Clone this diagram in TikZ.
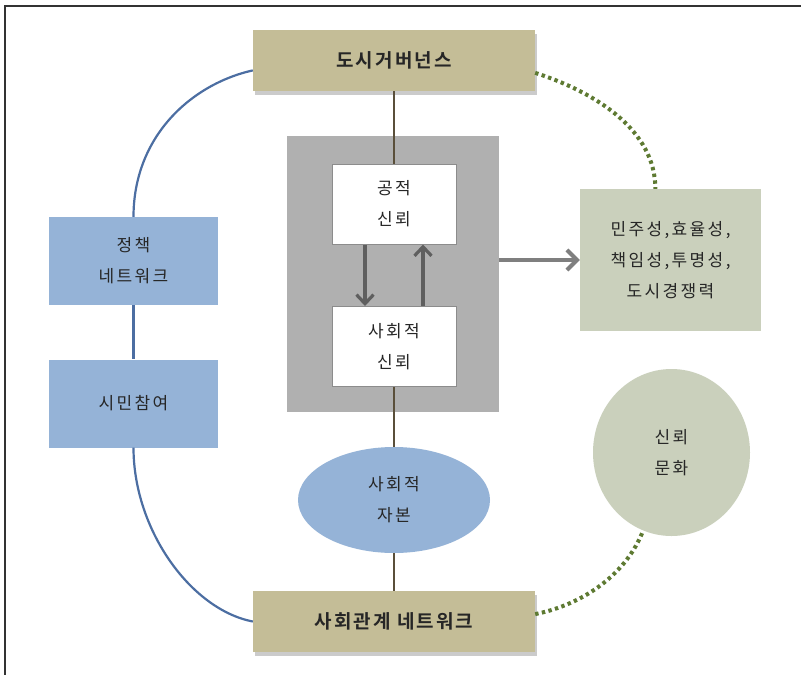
\documentclass[tikz,border=0pt]{standalone}
\usepackage{fontspec}
\setmainfont{Noto Sans CJK KR}
\newfontfamily\krreg[LetterSpace=14]{Noto Sans CJK KR}
\newfontfamily\krbold[LetterSpace=11]{Noto Sans CJK KR Bold}
\usetikzlibrary{shapes.geometric,shadows,arrows.meta}
\definecolor{tan}{HTML}{C4BD97}
\definecolor{bggray}{HTML}{B0B0B0}
\definecolor{boxline}{HTML}{8C8C8C}
\definecolor{sage}{HTML}{CAD0BC}
\definecolor{skyblue}{HTML}{95B3D7}
\definecolor{blueline}{HTML}{4C6EA2}
\definecolor{brownline}{HTML}{5A4F3A}
\definecolor{olivedot}{HTML}{5E7A32}
\definecolor{txt}{HTML}{262626}
\definecolor{arrdark}{HTML}{5F5F5F}
\definecolor{arrlight}{HTML}{7F7F7F}
\tikzset{
  regtext/.style={text=txt,align=center,font=\krreg\fontsize{17}{31}\selectfont},
  tanbox/.style={rectangle,fill=tan,minimum width=282pt,minimum height=61pt,inner sep=0pt,
     drop shadow={shadow xshift=2pt,shadow yshift=-4pt,fill=black!40,opacity=0.5},
     text=txt,font=\krbold\fontsize{19}{22}\selectfont},
  graybg/.style={rectangle,fill=bggray,minimum width=212pt,minimum height=276pt,inner sep=0pt},
  whitebox/.style={rectangle,fill=white,draw=boxline,line width=1pt,minimum width=124pt,minimum height=80pt,inner sep=0pt,regtext},
  sagebox/.style={rectangle,fill=sage,minimum width=181pt,minimum height=142pt,inner sep=0pt,regtext},
  bluebox/.style={rectangle,fill=skyblue,minimum width=169pt,minimum height=88pt,inner sep=0pt,regtext},
  blueell/.style={ellipse,fill=skyblue,minimum width=192pt,minimum height=106pt,inner sep=0pt,regtext},
  sageell/.style={ellipse,fill=sage,minimum width=157pt,minimum height=167pt,inner sep=0pt,regtext},
  brownconn/.style={draw=brownline,line width=2pt},
  blueconn/.style={draw=blueline,line width=2.2pt},
  dotconn/.style={draw=olivedot,line width=4pt,dash pattern=on 3.4pt off 3.4pt},
  innerarrow/.style={draw=arrdark,line width=3.2pt,-{Straight Barb[length=9pt,width=17pt]}},
  outarrow/.style={draw=arrlight,line width=4pt,-{Straight Barb[length=10pt,width=20pt]}}
}
\begin{document}
\begin{tikzpicture}[x=1pt,y=-1pt]
\useasboundingbox (0,0) rectangle (801,675);
\fill[white] (0,0) rectangle (801,675);
% frame
\draw[draw=black!80,line width=2pt] (801,6) -- (5,6) -- (5,675);
% nodes
\node[graybg] (bg) at (393,274) {};
\node[tanbox] (gov) at (394,60.5) {도시거버넌스};
\node[tanbox] (soc) at (394,621.5) {사회관계 네트워크};
\node[whitebox] (pub) at (394,204) {공적\\신뢰};
\node[whitebox] (st) at (394,346.5) {사회적\\신뢰};
\node[sagebox] (out) at (670.5,260) {민주성,효율성,\\책임성,투명성,\\도시경쟁력};
\node[bluebox] (pol) at (133.5,261) {정책\\네트워크};
\node[bluebox] (cit) at (133.5,403.5) {시민참여};
\node[blueell] (cap) at (394,500) {사회적\\자본};
\node[sageell] (cul) at (671.5,452.5) {신뢰\\문화};
% brown connectors
\draw[brownconn] (gov.south) -- (pub.north);
\draw[brownconn] (st.south) -- (cap.north);
\draw[brownconn] (cap.south) -- (soc.north);
% blue connectors
\draw[blueconn] (pol.south) -- (cit.north);
\draw[blueconn] (gov.184) .. controls +(-62,14) and +(0,-80) .. (pol.north);
\draw[blueconn] (cit.south) .. controls +(0,82) and +(-62,-12) .. (soc.west);
% dotted connectors
\draw[dotconn] (gov.-5) .. controls +(62,20) and +(0,-58) .. (out.102);
\draw[dotconn] (soc.3) .. controls +(50,-10) and +(-16,42) .. (cul.250);
% arrows
\coordinate (d1) at ([xshift=-29pt]pub.south);
\coordinate (d2) at ([xshift=-29pt]st.north);
\coordinate (u1) at ([xshift=29pt]st.north);
\coordinate (u2) at ([xshift=29pt]pub.south);
\draw[innerarrow] (d1) -- (d2);
\draw[innerarrow] (u1) -- (u2);
\draw[outarrow] (bg.east |- out.west) -- (out.west);
\end{tikzpicture}
\end{document}
